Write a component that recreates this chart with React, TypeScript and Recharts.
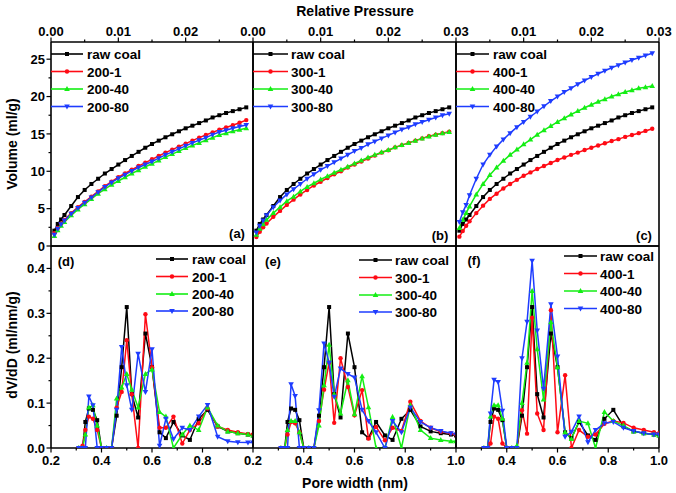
import React from 'react';
import { LineChart, Line, XAxis, YAxis } from 'recharts';

const W = 676;
const H = 493;
const FONT = '"Liberation Sans", Arial, Helvetica, sans-serif';

const BLACK = '#000000';
const RED = '#ff0a14';
const GREEN = '#14ee14';
const BLUE = '#1e3cff';

// ---------- isotherm data (relative pressure) ----------
const pressure = [0.0005, 0.001, 0.0015, 0.002, 0.003, 0.004, 0.005, 0.006, 0.007, 0.008, 0.009, 0.01, 0.011, 0.012, 0.013, 0.014, 0.015, 0.016, 0.017, 0.018, 0.019, 0.02, 0.021, 0.022, 0.023, 0.024, 0.025, 0.026, 0.027, 0.028, 0.029];
const isoRaw = [2.05, 2.95, 3.55, 4.15, 5.35, 6.55, 7.5, 8.3, 9.0, 9.7, 10.3, 10.9, 11.5, 12.05, 12.6, 13.15, 13.65, 14.1, 14.55, 14.95, 15.35, 15.75, 16.1, 16.45, 16.8, 17.2, 17.5, 17.8, 18.05, 18.3, 18.55];
const iso200_1 = [1.7, 2.4, 3.0, 3.5, 4.4, 5.2, 5.9, 6.6, 7.3, 8.0, 8.6, 9.2, 9.7, 10.2, 10.7, 11.15, 11.6, 12.05, 12.5, 12.9, 13.3, 13.7, 14.1, 14.5, 14.85, 15.2, 15.55, 15.85, 16.15, 16.5, 16.85];
const iso200_40 = [1.35, 2.1, 2.7, 3.2, 4.1, 4.9, 5.6, 6.3, 7.0, 7.6, 8.2, 8.7, 9.2, 9.7, 10.15, 10.6, 11.0, 11.45, 11.9, 12.3, 12.7, 13.1, 13.45, 13.8, 14.15, 14.5, 14.85, 15.1, 15.35, 15.55, 15.75];
const iso200_80 = [1.5, 2.3, 2.9, 3.4, 4.3, 5.1, 5.8, 6.5, 7.2, 7.9, 8.5, 9.05, 9.55, 10.05, 10.5, 10.9, 11.3, 11.75, 12.2, 12.6, 13.0, 13.4, 13.8, 14.15, 14.5, 14.9, 15.25, 15.5, 15.75, 16.0, 16.2];
const iso300_1 = [1.2, 1.9, 2.5, 3.0, 3.9, 4.7, 5.5, 6.2, 6.9, 7.5, 8.1, 8.6, 9.1, 9.6, 10.0, 10.5, 10.9, 11.3, 11.7, 12.1, 12.5, 12.8, 13.2, 13.5, 13.8, 14.1, 14.4, 14.7, 14.9, 15.1, 15.3];
const iso300_40 = [1.5, 2.3, 2.9, 3.5, 4.4, 5.2, 6.0, 6.6, 7.3, 7.9, 8.4, 8.9, 9.35, 9.8, 10.2, 10.6, 11.05, 11.45, 11.85, 12.2, 12.55, 12.85, 13.2, 13.5, 13.8, 14.1, 14.4, 14.65, 14.9, 15.1, 15.25];
const iso300_80 = [1.8, 2.7, 3.4, 4.1, 5.2, 6.1, 6.9, 7.6, 8.3, 9.0, 9.6, 10.2, 10.7, 11.2, 11.7, 12.2, 12.7, 13.1, 13.6, 14.0, 14.4, 14.8, 15.2, 15.6, 15.9, 16.3, 16.6, 16.9, 17.2, 17.5, 17.7];
const iso400_1 = [1.25, 2.0, 2.7, 3.3, 4.4, 5.4, 6.3, 7.0, 7.7, 8.3, 8.85, 9.4, 9.85, 10.3, 10.7, 11.1, 11.5, 11.85, 12.2, 12.5, 12.85, 13.15, 13.45, 13.75, 14.05, 14.3, 14.6, 14.85, 15.1, 15.4, 15.7];
const iso400_40 = [2.4, 3.5, 4.4, 5.3, 6.9, 8.3, 9.5, 10.5, 11.4, 12.2, 12.9, 13.6, 14.25, 14.9, 15.5, 16.05, 16.6, 17.1, 17.6, 18.05, 18.5, 18.9, 19.3, 19.65, 20.0, 20.3, 20.6, 20.85, 21.1, 21.25, 21.4];
const iso400_80 = [3.2, 4.5, 5.5, 6.8, 9.0, 10.9, 12.2, 13.3, 14.25, 15.1, 15.9, 16.6, 17.3, 18.0, 18.7, 19.4, 20.0, 20.6, 21.1, 21.65, 22.15, 22.6, 23.05, 23.45, 23.85, 24.2, 24.55, 24.9, 25.2, 25.5, 25.8];

// ---------- pore size distribution data (pore width, nm) ----------
const poreWidth = [0.31, 0.325, 0.336, 0.35, 0.366, 0.383, 0.40, 0.42, 0.44, 0.46, 0.48, 0.50, 0.52, 0.545, 0.574, 0.60, 0.63, 0.655, 0.685, 0.72, 0.75, 0.785, 0.82, 0.86, 0.90, 0.94, 0.98, 1.0];
const psdRaw = [0, 0, 0.058, 0.088, 0.085, 0.062, 0, 0, 0, 0.072, 0.18, 0.314, 0.12, 0.068, 0.255, 0.18, 0.035, 0.022, 0.058, 0.028, 0.018, 0.065, 0.085, 0.048, 0.037, 0.033, 0.03, 0.028];
const psd200_1 = [0, 0.005, 0.04, 0.07, 0.065, 0.04, 0, 0, 0, 0.09, 0.125, 0.24, 0.12, 0.0, 0.298, 0.18, 0.045, 0.045, 0.07, 0.01, 0.04, 0.055, 0.088, 0.048, 0.04, 0.035, 0.031, 0.03];
const psd200_40 = [0, 0, 0.03, 0.09, 0.095, 0.05, 0, 0, 0, 0.11, 0.135, 0.165, 0.13, 0.09, 0.165, 0.175, 0.08, 0.07, 0.0, 0.03, 0.05, 0.04, 0.09, 0.05, 0.037, 0.033, 0.03, 0.028];
const psd200_80 = [0, 0, 0, 0.115, 0.095, 0.0, 0, 0, 0, 0.085, 0.225, 0.14, 0.085, 0.21, 0.125, 0.22, 0.005, 0.065, 0.02, 0.045, 0.04, 0.07, 0.096, 0.025, 0.015, 0.013, 0.012, 0.012];
const psd300_1 = [0, 0, 0.03, 0.058, 0.055, 0.035, 0, 0, 0, 0.06, 0.13, 0.19, 0.056, 0.2, 0.136, 0.073, 0.129, 0.021, 0.047, 0.017, 0.045, 0.038, 0.103, 0.06, 0.045, 0.036, 0.033, 0.03];
const psd300_40 = [0, 0, 0.04, 0.06, 0.06, 0.035, 0, 0, 0, 0.05, 0.14, 0.23, 0.12, 0.077, 0.151, 0.075, 0.16, 0.091, 0.0, 0.0, 0.069, 0.0, 0.095, 0.04, 0.022, 0.018, 0.015, 0.015];
const psd300_80 = [0, 0, 0, 0.142, 0.116, 0.0, 0, 0, 0, 0.084, 0.233, 0.19, 0.114, 0.177, 0.165, 0.157, 0.085, 0.06, 0.035, 0.0, 0.06, 0.035, 0.09, 0.058, 0.045, 0.038, 0.033, 0.03];
const psd400_1 = [0, 0, 0.01, 0.07, 0.065, 0.01, 0, 0, 0, 0.084, 0.032, 0.29, 0.077, 0.04, 0.307, 0.035, 0.162, 0.0, 0.04, 0.025, 0.03, 0.054, 0.06, 0.056, 0.045, 0.04, 0.035, 0.033];
const psd400_40 = [0, 0, 0.07, 0.095, 0.095, 0.065, 0, 0, 0.005, 0.1, 0.19, 0.35, 0.22, 0.108, 0.28, 0.18, 0.035, 0.02, 0.06, 0.055, 0.0, 0.08, 0.06, 0.05, 0.037, 0.033, 0.03, 0.028];
const psd400_80 = [0, 0, 0.077, 0.152, 0.147, 0.083, 0, 0, 0, 0.2, 0.281, 0.417, 0.262, 0.132, 0.32, 0.204, 0.025, 0.036, 0.07, 0.013, 0.04, 0.055, 0.058, 0.045, 0.038, 0.033, 0.03, 0.03];

// ---------- ticks ----------
const topTicksA = [0, 0.005, 0.01, 0.015, 0.02, 0.025];
const topTicksB = [0, 0.005, 0.01, 0.015, 0.02, 0.025, 0.03];
const topTicksC = [0.005, 0.01, 0.015, 0.02, 0.025, 0.03];
const topMajors = [0, 0.01, 0.02, 0.03];
const topLabelsA = [0, 0.01, 0.02];
const topLabelsB = [0, 0.01, 0.02, 0.03];
const topLabelsC = [0.01, 0.02, 0.03];

const botTicksD = [0.2, 0.3, 0.4, 0.5, 0.6, 0.7, 0.8, 0.9];
const botTicksE = [0.2, 0.3, 0.4, 0.5, 0.6, 0.7, 0.8, 0.9, 1.0];
const botTicksF = [0.3, 0.4, 0.5, 0.6, 0.7, 0.8, 0.9, 1.0];
const botMajors = [0.2, 0.4, 0.6, 0.8, 1.0];
const botLabelsD = [0.2, 0.4, 0.6, 0.8];
const botLabelsE = [0.2, 0.4, 0.6, 0.8, 1.0];
const botLabelsF = [0.4, 0.6, 0.8, 1.0];

const volTicks = [0, 2.5, 5, 7.5, 10, 12.5, 15, 17.5, 20, 22.5, 25];
const volLabels = [0, 5, 10, 15, 20, 25];
const psdTicks = [0, 0.05, 0.1, 0.15, 0.2, 0.25, 0.3, 0.35, 0.4];
const psdLabels = [0, 0.1, 0.2, 0.3, 0.4];

type Shape = 'square' | 'circle' | 'up' | 'down';
type Series = { name: string; values: number[]; color: string; shape: Shape };

const near = (a: number, b: number) => Math.abs(a - b) < 1e-9;

function Marker({ x, y, shape, color }: { x: number; y: number; shape: Shape; color: string }) {
  if (x == null || y == null || isNaN(x) || isNaN(y)) return <g />;
  if (shape === 'square') return <rect x={x - 2} y={y - 2} width={4} height={4} fill={color} />;
  if (shape === 'circle') return <circle cx={x} cy={y} r={2.2} fill={color} />;
  if (shape === 'up') return <path d={`M${x},${y - 3}L${x + 2.8},${y + 2}L${x - 2.8},${y + 2}Z`} fill={color} />;
  return <path d={`M${x},${y + 3}L${x + 2.8},${y - 2}L${x - 2.8},${y - 2}Z`} fill={color} />;
}

const tickText = { fontFamily: FONT, fontWeight: 700, fontSize: 13, fill: '#000' } as const;

function makeTick(side: 'top' | 'bottom' | 'left', majors: number[], labels: number[], minorsShown: boolean, fmt: (v: number) => string) {
  return (props: any) => {
    const { x, y, payload } = props;
    const v = payload.value;
    const isMajor = majors.some((m) => near(m, v));
    const show = labels.some((m) => near(m, v));
    const len = isMajor ? 4.5 : 2.5;
    if (!isMajor && !minorsShown) return <g />;
    if (side === 'top') {
      return (
        <g>
          <line x1={x} y1={y} x2={x} y2={y - len} stroke="#000" strokeWidth={1.2} />
          {show && <text x={x} y={y - 6} textAnchor="middle" {...tickText}>{fmt(v)}</text>}
        </g>
      );
    }
    if (side === 'bottom') {
      return (
        <g>
          <line x1={x} y1={y} x2={x} y2={y + len} stroke="#000" strokeWidth={1.2} />
          {show && <text x={x} y={y + 17} textAnchor="middle" {...tickText}>{fmt(v)}</text>}
        </g>
      );
    }
    return (
      <g>
        <line x1={x} y1={y} x2={x - len} y2={y} stroke="#000" strokeWidth={1.2} />
        {show && <text x={x - 6} y={y + 4.6} textAnchor="end" {...tickText}>{fmt(v)}</text>}
      </g>
    );
  };
}

type PanelProps = {
  xs: number[];
  series: Series[];
  xDomain: [number, number];
  yDomain: [number, number];
  xSide: 'top' | 'bottom';
  xTicks: number[];
  xMajors: number[];
  xLabels: number[];
  xFmt: (v: number) => string;
  yTicks?: number[];
  yMajors?: number[];
  yFmt?: (v: number) => string;
  margin: { top: number; right: number; bottom: number; left: number };
};

const axisLineStyle = { stroke: '#000', strokeWidth: 1.6 };

function Panel(p: PanelProps) {
  const rows = p.xs.map((x, i) => {
    const r: Record<string, number> = { x };
    p.series.forEach((s, j) => {
      r['s' + j] = s.values[i];
    });
    return r;
  });
  const other = p.xSide === 'top' ? 'bottom' : 'top';
  return (
    <div style={{ position: 'absolute', left: 0, top: 0 }}>
      <LineChart width={W} height={H} data={rows} margin={p.margin}>
        <XAxis
          xAxisId="main"
          dataKey="x"
          type="number"
          domain={p.xDomain}
          allowDataOverflow
          ticks={p.xTicks}
          interval={0}
          orientation={p.xSide}
          height={1}
          tickSize={0}
          tickMargin={0}
          tickLine={false}
          axisLine={axisLineStyle}
          tick={makeTick(p.xSide, p.xMajors, p.xLabels, true, p.xFmt)}
        />
        <XAxis
          xAxisId="other"
          dataKey="x"
          type="number"
          domain={p.xDomain}
          allowDataOverflow
          orientation={other}
          height={1}
          tick={false}
          tickLine={false}
          axisLine={axisLineStyle}
        />
        <YAxis
          yAxisId="main"
          type="number"
          domain={p.yDomain}
          allowDataOverflow
          ticks={p.yTicks}
          interval={0}
          orientation="left"
          width={1}
          tickSize={0}
          tickMargin={0}
          tickLine={false}
          axisLine={axisLineStyle}
          tick={p.yTicks ? makeTick('left', p.yMajors || [], p.yMajors || [], true, p.yFmt || String) : false}
        />
        <YAxis
          yAxisId="right"
          type="number"
          domain={p.yDomain}
          allowDataOverflow
          orientation="right"
          width={1}
          tick={false}
          tickLine={false}
          axisLine={axisLineStyle}
        />
        {p.series.map((s, j) => (
          <Line
            key={s.name}
            xAxisId="main"
            yAxisId="main"
            type="linear"
            dataKey={'s' + j}
            stroke={s.color}
            strokeWidth={1.5}
            isAnimationActive={false}
            activeDot={false}
            dot={(d: any) => <Marker key={`m${j}-${d.index}`} x={d.cx} y={d.cy} shape={s.shape} color={s.color} />}
          />
        ))}
      </LineChart>
    </div>
  );
}

const sA: Series[] = [
  { name: 'raw coal', values: isoRaw, color: BLACK, shape: 'square' },
  { name: '200-1', values: iso200_1, color: RED, shape: 'circle' },
  { name: '200-40', values: iso200_40, color: GREEN, shape: 'up' },
  { name: '200-80', values: iso200_80, color: BLUE, shape: 'down' },
];
const sB: Series[] = [
  { name: 'raw coal', values: isoRaw, color: BLACK, shape: 'square' },
  { name: '300-1', values: iso300_1, color: RED, shape: 'circle' },
  { name: '300-40', values: iso300_40, color: GREEN, shape: 'up' },
  { name: '300-80', values: iso300_80, color: BLUE, shape: 'down' },
];
const sC: Series[] = [
  { name: 'raw coal', values: isoRaw, color: BLACK, shape: 'square' },
  { name: '400-1', values: iso400_1, color: RED, shape: 'circle' },
  { name: '400-40', values: iso400_40, color: GREEN, shape: 'up' },
  { name: '400-80', values: iso400_80, color: BLUE, shape: 'down' },
];
const sD: Series[] = [
  { name: 'raw coal', values: psdRaw, color: BLACK, shape: 'square' },
  { name: '200-1', values: psd200_1, color: RED, shape: 'circle' },
  { name: '200-40', values: psd200_40, color: GREEN, shape: 'up' },
  { name: '200-80', values: psd200_80, color: BLUE, shape: 'down' },
];
const sE: Series[] = [
  { name: 'raw coal', values: psdRaw, color: BLACK, shape: 'square' },
  { name: '300-1', values: psd300_1, color: RED, shape: 'circle' },
  { name: '300-40', values: psd300_40, color: GREEN, shape: 'up' },
  { name: '300-80', values: psd300_80, color: BLUE, shape: 'down' },
];
const sF: Series[] = [
  { name: 'raw coal', values: psdRaw, color: BLACK, shape: 'square' },
  { name: '400-1', values: psd400_1, color: RED, shape: 'circle' },
  { name: '400-40', values: psd400_40, color: GREEN, shape: 'up' },
  { name: '400-80', values: psd400_80, color: BLUE, shape: 'down' },
];

const fmt2 = (v: number) => v.toFixed(2);
const fmt1 = (v: number) => v.toFixed(1);
const fmt0 = (v: number) => String(Math.round(v));

// margins are reduced by 1px on each side for the 1px axis bands
const topM = { top: 41, bottom: 246 };
const botM = { top: 245, bottom: 44 };
const colA = { left: 50, right: 422 };
const colB = { left: 252, right: 219 };
const colC = { left: 455, right: 16 };

function LegendBlock({ series, x1, x2, tx, ys }: { series: Series[]; x1: number; x2: number; tx: number; ys: number[] }) {
  return (
    <g>
      {series.map((s, i) => (
        <g key={s.name}>
          <line x1={x1} y1={ys[i]} x2={x2} y2={ys[i]} stroke={s.color} strokeWidth={1.6} />
          <Marker x={(x1 + x2) / 2} y={ys[i]} shape={s.shape} color={s.color} />
          <text x={tx} y={ys[i] + 5} fontFamily={FONT} fontWeight={700} fontSize={13.5} fill="#000">
            {s.name}
          </text>
        </g>
      ))}
    </g>
  );
}

const labelStyle = { fontFamily: FONT, fontWeight: 700, fill: '#000' } as const;

export default function App() {
  return (
    <div style={{ position: 'absolute', left: 0, top: 0, width: W, height: H, background: '#fff', overflow: 'hidden' }}>
      <Panel xs={pressure} series={sA} xDomain={[0, 0.03]} yDomain={[0, 27.3]} xSide="top" xTicks={topTicksA} xMajors={topMajors} xLabels={topLabelsA} xFmt={fmt2} yTicks={volTicks} yMajors={volLabels} yFmt={fmt0} margin={{ ...topM, ...colA }} />
      <Panel xs={pressure} series={sB} xDomain={[0, 0.03]} yDomain={[0, 27.3]} xSide="top" xTicks={topTicksB} xMajors={topMajors} xLabels={topLabelsB} xFmt={fmt2} margin={{ ...topM, ...colB }} />
      <Panel xs={pressure} series={sC} xDomain={[0, 0.03]} yDomain={[0, 27.3]} xSide="top" xTicks={topTicksC} xMajors={topMajors} xLabels={topLabelsC} xFmt={fmt2} margin={{ ...topM, ...colC }} />
      <Panel xs={poreWidth} series={sD} xDomain={[0.2, 1.0]} yDomain={[0, 0.45]} xSide="bottom" xTicks={botTicksD} xMajors={botMajors} xLabels={botLabelsD} xFmt={fmt1} yTicks={psdTicks} yMajors={psdLabels} yFmt={fmt1} margin={{ ...botM, ...colA }} />
      <Panel xs={poreWidth} series={sE} xDomain={[0.2, 1.0]} yDomain={[0, 0.45]} xSide="bottom" xTicks={botTicksE} xMajors={botMajors} xLabels={botLabelsE} xFmt={fmt1} margin={{ ...botM, ...colB }} />
      <Panel xs={poreWidth} series={sF} xDomain={[0.2, 1.0]} yDomain={[0, 0.45]} xSide="bottom" xTicks={botTicksF} xMajors={botMajors} xLabels={botLabelsF} xFmt={fmt1} margin={{ ...botM, ...colC }} />
      <svg width={W} height={H} style={{ position: 'absolute', left: 0, top: 0, pointerEvents: 'none' }}>
        <text x={355} y={16} textAnchor="middle" fontSize={14} {...labelStyle}>Relative Pressure</text>
        <text x={355} y={487.5} textAnchor="middle" fontSize={14} {...labelStyle}>Pore width (nm)</text>
        <text transform="translate(17,144) rotate(-90)" textAnchor="middle" fontSize={14} {...labelStyle}>Volume (ml/g)</text>
        <text transform="translate(17,345) rotate(-90)" textAnchor="middle" fontSize={14} {...labelStyle}>dV/dD (ml/nm/g)</text>

        <LegendBlock series={sA} x1={51} x2={83} tx={87} ys={[54, 71.5, 89, 106.5]} />
        <LegendBlock series={sB} x1={253} x2={288} tx={291} ys={[54, 71.5, 89, 106.5]} />
        <LegendBlock series={sC} x1={456} x2={489} tx={493} ys={[54, 71.5, 89, 106.5]} />
        <LegendBlock series={sD} x1={156} x2={188} tx={192} ys={[259, 276.5, 294, 311]} />
        <LegendBlock series={sE} x1={359} x2={392} tx={395} ys={[260, 277.5, 295, 312]} />
        <LegendBlock series={sF} x1={564} x2={597} tx={600} ys={[256, 273.5, 291, 308.5]} />

        <text x={237} y={238} textAnchor="middle" fontSize={13} {...labelStyle}>(a)</text>
        <text x={440} y={239.5} textAnchor="middle" fontSize={13} {...labelStyle}>(b)</text>
        <text x={644} y={239.5} textAnchor="middle" fontSize={13} {...labelStyle}>(c)</text>
        <text x={66} y={266} textAnchor="middle" fontSize={13} {...labelStyle}>(d)</text>
        <text x={273} y={266} textAnchor="middle" fontSize={13} {...labelStyle}>(e)</text>
        <text x={474} y={264.5} textAnchor="middle" fontSize={13} {...labelStyle}>(f)</text>
      </svg>
    </div>
  );
}
